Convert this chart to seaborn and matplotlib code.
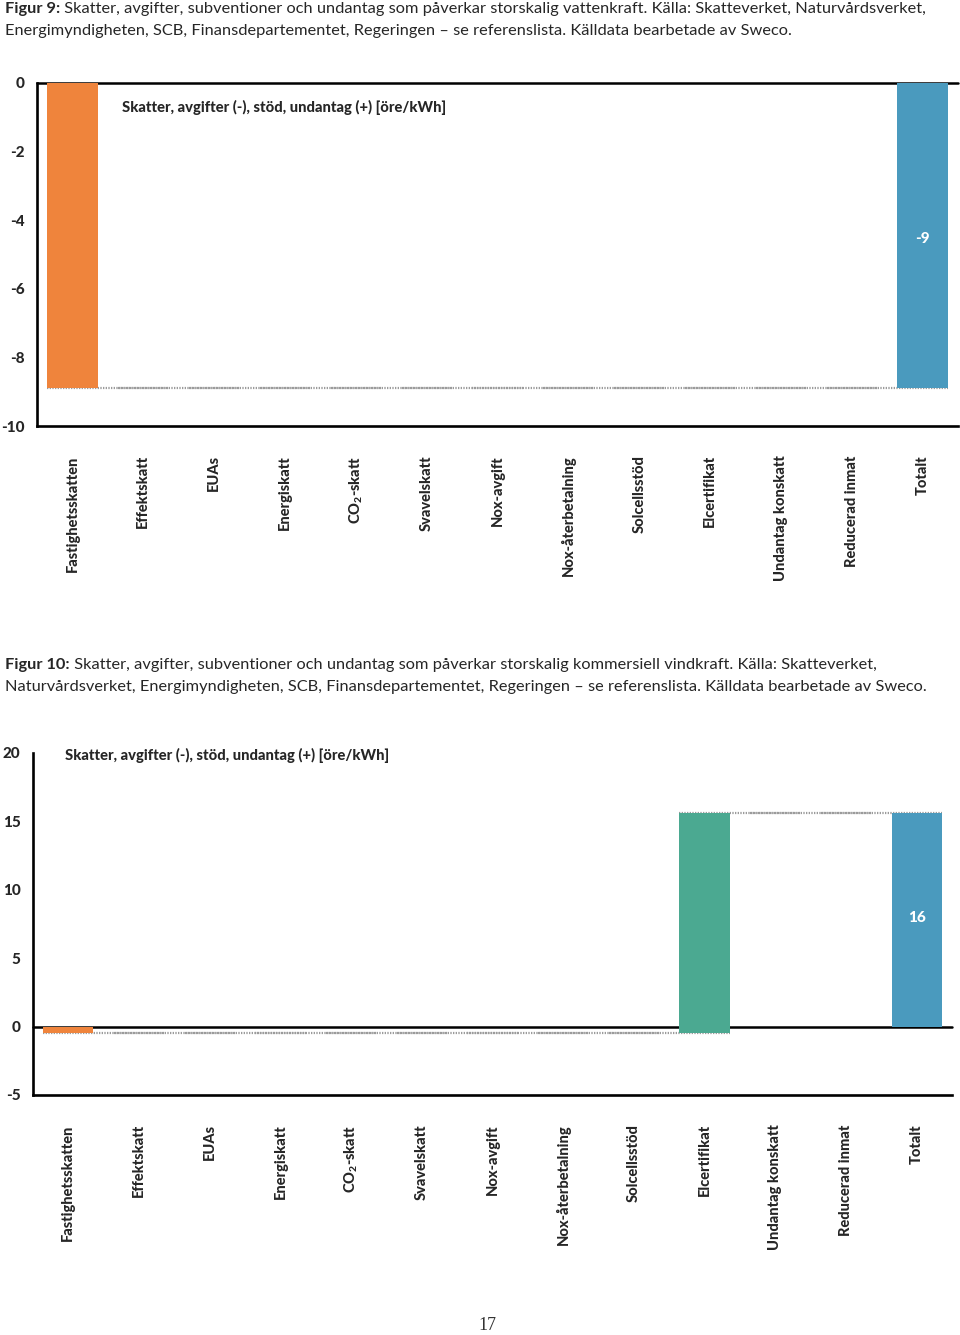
import matplotlib
matplotlib.use("Agg")
import matplotlib.pyplot as plt
import seaborn as sns
import numpy as np

sns.set_theme(style="white")
plt.rcParams['font.family'] = ['Lato', 'DejaVu Sans']
plt.rcParams['mathtext.fontset'] = 'custom'
plt.rcParams['mathtext.rm'] = 'Lato'
plt.rcParams['mathtext.bf'] = 'Lato:black'

# ---------------- data ----------------
categories = ["Fastighetsskatten", "Effektskatt", "EUAs", "Energiskatt",
              "CO$_\\mathbf{2}$-skatt", "Svavelskatt", "Nox-avgift",
              "Nox-återbetalning", "Solcellsstöd", "Elcertifikat",
              "Undantag konskatt", "Reducerad inmat", "Totalt"]

# Figur 9: storskalig vattenkraft (öre/kWh)
hydro_values = [-8.9, 0, 0, 0, 0, 0, 0, 0, 0, 0, 0, 0]
hydro_total_label = "-9"

# Figur 10: storskalig kommersiell vindkraft (öre/kWh)
wind_values = [-0.45, 0, 0, 0, 0, 0, 0, 0, 0, 16.05, 0, 0]
wind_total_label = "16"

hydro_yticks = [0, -2, -4, -6, -8, -10]
wind_yticks = [20, 15, 10, 5, 0, -5]

caption1_bold = "Figur 9:"
caption1_rest = [" Skatter, avgifter, subventioner och undantag som påverkar storskalig vattenkraft. Källa: Skatteverket, Naturvårdsverket,",
                 "Energimyndigheten, SCB, Finansdepartementet, Regeringen – se referenslista. Källdata bearbetade av Sweco."]
caption2_bold = "Figur 10:"
caption2_rest = [" Skatter, avgifter, subventioner och undantag som påverkar storskalig kommersiell vindkraft. Källa: Skatteverket,",
                 "Naturvårdsverket, Energimyndigheten, SCB, Finansdepartementet, Regeringen – se referenslista. Källdata bearbetade av Sweco."]
axis_title = "Skatter, avgifter (-), stöd, undantag (+) [öre/kWh]"
page_number = "17"

ORANGE = "#EF843C"
GREEN = "#4BA991"
BLUE = "#4A9ABE"
color_map = {c: "#cccccc" for c in categories}
color_map[categories[0]] = ORANGE
color_map["Elcertifikat"] = GREEN
color_map["Totalt"] = BLUE

W, H = 960, 1335
fig = plt.figure(figsize=(W / 100, H / 100), dpi=100)
HEAVY = "black"


def fr(x0, y0, x1, y1):
    return [x0 / W, 1 - y1 / H, (x1 - x0) / W, (y1 - y0) / H]


def waterfall(ax, deltas, total_label, ylim, yticks, title_xy):
    deltas = list(deltas)
    cum = np.cumsum(deltas)
    total = cum[-1]
    heights = deltas + [total]
    bases = list(np.concatenate([[0], cum[:-1]])) + [0]
    sns.barplot(x=categories, y=heights, hue=categories, order=categories,
                hue_order=categories, palette=color_map, legend=False,
                width=0.71, linewidth=0, saturation=1, ax=ax, zorder=2)
    for p in ax.patches:
        i = int(round(p.get_x() + p.get_width() / 2))
        p.set_y(bases[i])
        p.set_height(heights[i])
        p.set_zorder(2)
    hw = 0.71 / 2
    levels = list(cum)
    for i in range(len(categories) - 1):
        ax.plot([i - hw, i + 1 + hw], [levels[i], levels[i]], color="#9b9b9b",
                lw=1.6, ls=(0, (0.6, 0.6)), zorder=1, solid_capstyle="butt")
    # total label
    ax.text(len(categories) - 1, total * 0.51, total_label, color="white",
            fontsize=11, fontweight=HEAVY, ha="center", va="center", zorder=4)
    ax.axhline(0, color="black", lw=1.8, zorder=0.5, clip_on=False)
    ax.set_xlim(-0.5, len(categories) - 0.5)
    ax.set_ylim(*ylim)
    ax.set_yticks(yticks)
    ax.set_yticklabels([str(t) for t in yticks], fontweight=HEAVY, fontsize=11)
    ax.tick_params(axis="y", length=0, pad=9)
    ax.tick_params(axis="x", length=0, pad=21)
    ax.set_xticks(range(len(categories)))
    ax.set_xticklabels(categories, rotation=90, fontweight=HEAVY, fontsize=10.5)
    for s in ["top", "right"]:
        ax.spines[s].set_visible(False)
    for s in ["left", "bottom"]:
        ax.spines[s].set_color("black")
        ax.spines[s].set_linewidth(1.9)
        ax.spines[s].set_zorder(3)
    ax.set_xlabel("")
    ax.set_ylabel("")
    ax.text(title_xy[0], title_xy[1], axis_title, transform=ax.transAxes,
            fontsize=10.6, fontweight=HEAVY, ha="left", va="center")


ax1 = fig.add_axes(fr(37, 82.7, 958, 426))
waterfall(ax1, hydro_values, hydro_total_label, (-10, 0), hydro_yticks, (0.092, 0.927))

ax2 = fig.add_axes(fr(33, 753, 952, 1095))
waterfall(ax2, wind_values, wind_total_label, (-5, 20), wind_yticks, (0.035, 0.994))

# captions
fig.canvas.draw()
renderer = fig.canvas.get_renderer()
CAP = 11.75


def caption(bold, rest, y_baselines, x0=5):
    tb = fig.text(x0 / W, 1 - y_baselines[0] / H, bold, fontsize=CAP,
                  fontweight="bold", va="baseline", ha="left")
    fig.canvas.draw()
    bb = tb.get_window_extent(renderer)
    fig.text(bb.x1 / W, 1 - y_baselines[0] / H, rest[0], fontsize=CAP,
             va="baseline", ha="left")
    fig.text(x0 / W, 1 - y_baselines[1] / H, rest[1], fontsize=CAP,
             va="baseline", ha="left")


caption(caption1_bold, caption1_rest, [13.5, 35.5])
caption(caption2_bold, caption2_rest, [669.5, 691.5])

fig.text(487 / W, 1 - 1326 / H, page_number, fontsize=13,
         family="Liberation Serif", ha="center", va="center", color="#333333")

fig.savefig("out.png", dpi=100)
